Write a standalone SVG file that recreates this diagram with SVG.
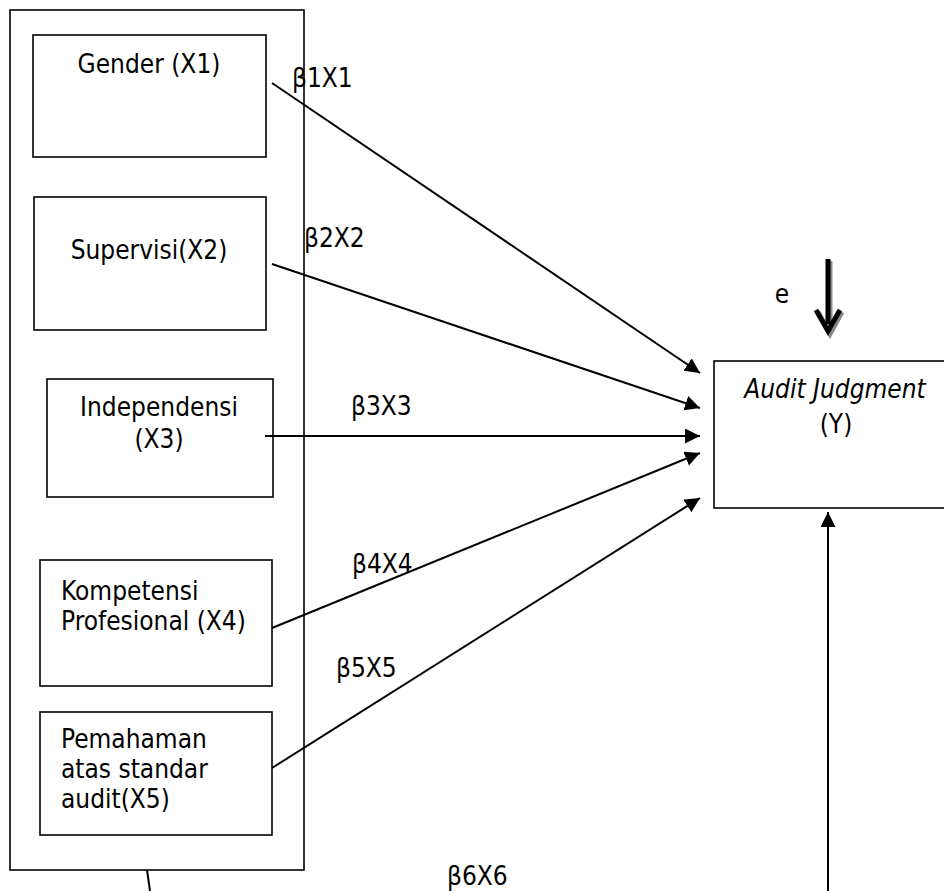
<svg xmlns="http://www.w3.org/2000/svg" width="944" height="891" viewBox="0 0 944 891">
<style>
  .box { fill: #ffffff; stroke: #000000; stroke-width: 1.6; }
  .t { font-family: 'DejaVu Sans Condensed', 'Liberation Sans', sans-serif; font-size: 26px; fill: #000000; }
  .c { text-anchor: middle; }
  .conn { stroke: #000000; stroke-width: 2; fill: none; }
</style>
<defs>
  <marker id="ah" markerUnits="userSpaceOnUse" markerWidth="16" markerHeight="16" refX="15" refY="7.5" orient="auto">
    <path d="M0,0 L15,7.5 L0,15 Z" fill="#000000"/>
  </marker>
</defs>
<rect width="944" height="891" fill="#ffffff"/>

<g id="outer">
  <rect class="box" x="10" y="10" width="294" height="860" stroke-width="2"/>
</g>

<g id="x1">
  <rect class="box" x="33" y="35" width="233" height="122"/>
  <text class="t c" x="149" y="73">Gender (X1)</text>
</g>
<g id="x2">
  <rect class="box" x="34" y="197" width="232" height="133"/>
  <text class="t c" x="149" y="259">Supervisi(X2)</text>
</g>
<g id="x3">
  <rect class="box" x="47" y="379" width="226" height="118"/>
  <text class="t c" x="159" y="416">Independensi</text>
  <text class="t c" x="159" y="448">(X3)</text>
</g>
<g id="x4">
  <rect class="box" x="40" y="560" width="232" height="126"/>
  <text class="t" x="61" y="600">Kompetensi</text>
  <text class="t" x="61" y="630">Profesional (X4)</text>
</g>
<g id="x5">
  <rect class="box" x="40" y="712" width="232" height="123"/>
  <text class="t" x="61" y="748">Pemahaman</text>
  <text class="t" x="61" y="778">atas standar</text>
  <text class="t" x="61" y="808">audit(X5)</text>
</g>
<g id="y">
  <rect class="box" x="714" y="361" width="250" height="147" stroke-width="2"/>
  <text class="t c" x="835" y="398" font-style="italic">Audit Judgment</text>
  <text class="t c" x="836" y="433">(Y)</text>
</g>
<g id="e">
  <text class="t c" x="782" y="303">e</text>
  <line x1="830" y1="261" x2="830" y2="326" stroke="#8a8a8a" stroke-width="5"/>
  <path d="M818,312 L830,334 L842,312" fill="none" stroke="#8a8a8a" stroke-width="5"/>
  <line x1="828" y1="259" x2="828" y2="324" stroke="#000000" stroke-width="5"/>
  <path d="M816,310 L828,331 L840,310" fill="none" stroke="#000000" stroke-width="5"/>
</g>

<g id="connectors">
  <line class="conn" x1="272" y1="83" x2="700" y2="373" marker-end="url(#ah)"/>
  <line class="conn" x1="272" y1="264" x2="700" y2="408" marker-end="url(#ah)"/>
  <line class="conn" x1="265" y1="436" x2="700" y2="436" marker-end="url(#ah)"/>
  <line class="conn" x1="272" y1="628" x2="700" y2="453" marker-end="url(#ah)"/>
  <line class="conn" x1="272" y1="768" x2="700" y2="498" marker-end="url(#ah)"/>
  <line class="conn" x1="828" y1="891" x2="828" y2="512" marker-end="url(#ah)"/>
  <line class="conn" x1="147" y1="870" x2="150" y2="891"/>
</g>

<g id="labels">
  <text class="t" x="292" y="87">β1X1</text>
  <text class="t" x="304" y="247">β2X2</text>
  <text class="t" x="351" y="415">β3X3</text>
  <text class="t" x="352" y="573">β4X4</text>
  <text class="t" x="336" y="677">β5X5</text>
  <text class="t" x="447" y="885">β6X6</text>
</g>
</svg>
